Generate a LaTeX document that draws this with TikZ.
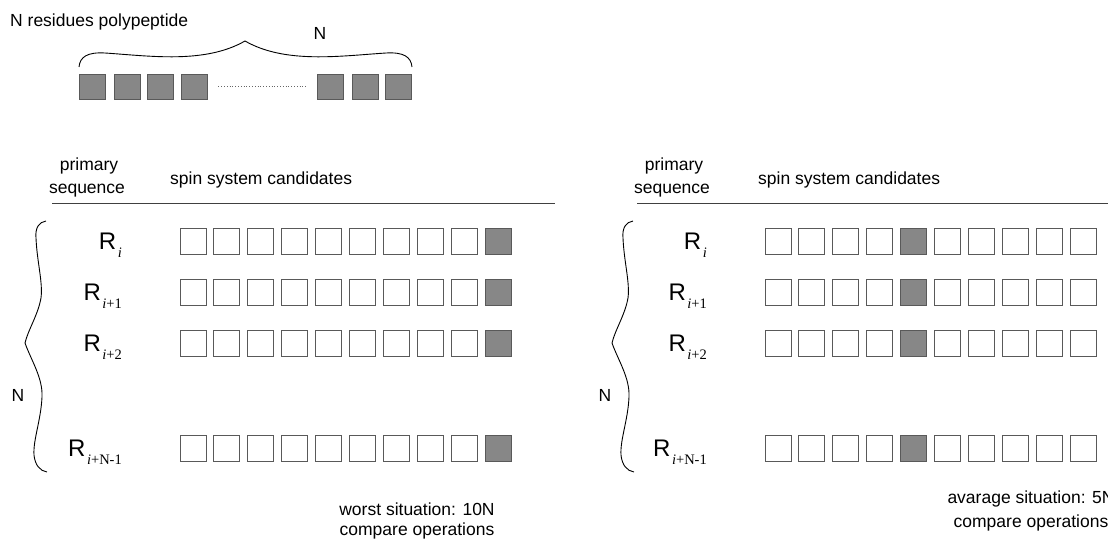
\documentclass[tikz,border=0pt]{standalone}
\usepackage{fontspec}
\setmainfont{Liberation Sans}
\newfontfamily\serifR{Liberation Serif}
\newcommand\Rlab[1]{{\fontsize{24}{24}\selectfont R}\hspace{1.5pt}\raisebox{-8.5pt}{\serifR\fontsize{14.5}{14.5}\selectfont #1}}
\tikzset{
  txt/.style={font=\fontsize{17.5}{20}\selectfont, inner sep=0},
  cell/.style={draw=black!65, line width=0.9pt, minimum width=26pt, minimum height=26pt, inner sep=0, fill=white},
  hit/.style={cell, fill=black!47, draw=black!65},
  rlab/.style={anchor=base east, inner sep=0},
  bracepath/.style={line width=0.9pt},
  rule/.style={line width=0.8pt, black!75},
}
\begin{document}
\begin{tikzpicture}[x=1pt,y=-1pt]
\useasboundingbox (0,0) rectangle (1108,540);
\clip (0,0) rectangle (1108,540);
% ---------- top: polypeptide ----------
\node[txt, anchor=base west] (title) at (10,27) {N residues polypeptide};
\node[txt, anchor=base] (ntop) at (320,40) {N};
\draw[bracepath] (79,67) .. controls (80,57) and (87,52) .. (105,53)
  .. controls (150,56) and (205,64) .. (245,41)
  .. controls (285,64) and (340,56) .. (386,53)
  .. controls (404,52) and (411,57) .. (412,67);
\foreach \x [count=\k] in {92,127,160,194,330,365,398}
  \node[hit, minimum height=25pt] (p\k) at (\x,86.5) {};
\draw[dotted, black!60, line width=0.8pt] ([xshift=11pt]p4.east) -- ([xshift=-10pt]p5.west);
% ---------- left panel ----------
\node[txt, anchor=base] (lprim) at (89,171) {primary};
\node[txt, anchor=base] (lseq) at (87,194) {sequence};
\node[txt, anchor=base west] (lspin) at (170,185) {spin system candidates};
\coordinate (lr0) at (52,203); \coordinate (lr1) at (555,203);
\draw[rule] (lr0) -- (lr1);
\node[rlab] (lR1) at (122,249) {\Rlab{\textit{i}}};
\node[rlab] (lR2) at (122,300) {\Rlab{\textit{i}+1}};
\node[rlab] (lR3) at (122,351) {\Rlab{\textit{i}+2}};
\node[rlab] (lR4) at (122,456) {\Rlab{\textit{i}+N-1}};
\foreach \r/\y in {1/241,2/292,3/343,4/448}{
  \foreach \c in {0,...,8} \node[cell] (L\r c\c) at ({193+33.9*\c},\y) {};
  \node[hit] (L\r c9) at ({193+33.9*9},\y) {};
}
\draw[bracepath] (46,221) .. controls (39,222) and (35,228) .. (36,238)
  .. controls (37,262) and (43,282) .. (41,298)
  .. controls (38,315) and (28,330) .. (25,343)
  .. controls (31,360) and (43,378) .. (42,397)
  .. controls (41,420) and (33,440) .. (34,455)
  .. controls (35,465) and (40,471) .. (47,472);
\node[txt, anchor=base] (lN) at (18,401) {N};
\node[txt, anchor=base] (lw1) at (417,515) {worst situation: 10N};
\node[txt, anchor=base] (lw2) at (417,535) {compare operations};
% ---------- right panel ----------
\node[txt, anchor=base] (rprim) at (674,171) {primary};
\node[txt, anchor=base] (rseq) at (672,194) {sequence};
\node[txt, anchor=base west] (rspin) at (758,185) {spin system candidates};
\coordinate (rr0) at (637,203); \coordinate (rr1) at (1108,203);
\draw[rule] (rr0) -- (rr1);
\node[rlab] (rR1) at (707,249) {\Rlab{\textit{i}}};
\node[rlab] (rR2) at (707,300) {\Rlab{\textit{i}+1}};
\node[rlab] (rR3) at (707,351) {\Rlab{\textit{i}+2}};
\node[rlab] (rR4) at (707,456) {\Rlab{\textit{i}+N-1}};
\foreach \r/\y in {1/241,2/292,3/343,4/448}{
  \foreach \c in {0,...,3,5,6,...,9} \node[cell] (R\r c\c) at ({778+33.9*\c},\y) {};
  \node[hit] (R\r c4) at ({778+33.9*4},\y) {};
}
\begin{scope}[xshift=587pt]
\draw[bracepath] (46,221) .. controls (39,222) and (35,228) .. (36,238)
  .. controls (37,262) and (43,282) .. (41,298)
  .. controls (38,315) and (28,330) .. (25,343)
  .. controls (31,360) and (43,378) .. (42,397)
  .. controls (41,420) and (33,440) .. (34,455)
  .. controls (35,465) and (40,471) .. (47,472);
\end{scope}
\node[txt, anchor=base] (rN) at (605,401) {N};
\node[txt, anchor=base] (rw1) at (1031,503) {avarage situation: 5N};
\node[txt, anchor=base] (rw2) at (1031,527) {compare operations};
\end{tikzpicture}
\end{document}
